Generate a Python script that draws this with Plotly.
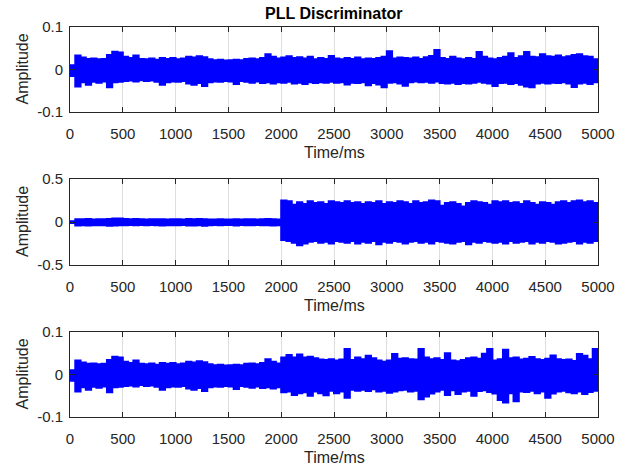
import plotly.graph_objects as go

# time axis of the envelope samples (ms)
t_ms = list(range(0, 5001, 50))

# Upper / lower envelopes (one value per 50 ms)
upper_1 = [0.010, 0.033, 0.028, 0.025, 0.026, 0.024, 0.025, 0.034, 0.042, 0.040,
           0.030, 0.027, 0.033, 0.025, 0.024, 0.026, 0.023, 0.027, 0.025, 0.027,
           0.024, 0.026, 0.030, 0.028, 0.031, 0.029, 0.024, 0.022, 0.023, 0.021,
           0.022, 0.023, 0.022, 0.025, 0.026, 0.024, 0.027, 0.036, 0.030, 0.026,
           0.028, 0.031, 0.027, 0.029, 0.026, 0.030, 0.024, 0.027, 0.025, 0.032,
           0.026, 0.024, 0.027, 0.025, 0.028, 0.024, 0.026, 0.025, 0.027, 0.030,
           0.043, 0.026, 0.028, 0.027, 0.026, 0.028, 0.025, 0.029, 0.032, 0.046,
           0.027, 0.025, 0.030, 0.026, 0.024, 0.027, 0.025, 0.041, 0.030, 0.026,
           0.024, 0.027, 0.030, 0.038, 0.027, 0.031, 0.041, 0.030, 0.029, 0.036,
           0.031, 0.030, 0.033, 0.029, 0.031, 0.034, 0.036, 0.031, 0.030, 0.024,
           0.016]
lower_1 = [-0.015, -0.040, -0.030, -0.036, -0.029, -0.031, -0.028, -0.042, -0.030, -0.029,
           -0.027, -0.026, -0.028, -0.025, -0.027, -0.026, -0.029, -0.036, -0.030, -0.028,
           -0.029, -0.027, -0.033, -0.036, -0.032, -0.039, -0.030, -0.028, -0.029, -0.027,
           -0.028, -0.034, -0.027, -0.029, -0.031, -0.028, -0.032, -0.030, -0.033, -0.030,
           -0.031, -0.029, -0.033, -0.031, -0.034, -0.030, -0.032, -0.030, -0.031, -0.029,
           -0.031, -0.030, -0.035, -0.031, -0.032, -0.030, -0.037, -0.032, -0.035, -0.042,
           -0.031, -0.030, -0.033, -0.038, -0.030, -0.028, -0.030, -0.029, -0.031, -0.028,
           -0.032, -0.033, -0.031, -0.034, -0.032, -0.033, -0.031, -0.029, -0.031, -0.033,
           -0.039, -0.032, -0.031, -0.034, -0.032, -0.036, -0.040, -0.042, -0.033, -0.031,
           -0.033, -0.031, -0.032, -0.030, -0.033, -0.041, -0.033, -0.031, -0.034, -0.030,
           -0.026]

upper_2 = [0.010, 0.033, 0.031, 0.034, 0.030, 0.032, 0.033, 0.036, 0.042, 0.040,
           0.035, 0.032, 0.034, 0.031, 0.030, 0.033, 0.031, 0.032, 0.030, 0.033,
           0.031, 0.030, 0.034, 0.033, 0.035, 0.032, 0.030, 0.029, 0.031, 0.030,
           0.029, 0.031, 0.030, 0.031, 0.032, 0.030, 0.031, 0.034, 0.032, 0.030,
           0.250, 0.240, 0.200, 0.230, 0.210, 0.240, 0.220, 0.230, 0.210, 0.240,
           0.230, 0.220, 0.240, 0.220, 0.230, 0.210, 0.230, 0.220, 0.240, 0.210,
           0.230, 0.220, 0.240, 0.230, 0.210, 0.240, 0.220, 0.230, 0.250, 0.240,
           0.190, 0.220, 0.230, 0.210, 0.180, 0.220, 0.240, 0.230, 0.220, 0.200,
           0.240, 0.230, 0.240, 0.220, 0.230, 0.210, 0.240, 0.220, 0.200, 0.230,
           0.220, 0.200, 0.230, 0.240, 0.220, 0.240, 0.250, 0.230, 0.240, 0.220,
           0.180]
lower_2 = [-0.012, -0.042, -0.038, -0.040, -0.037, -0.039, -0.038, -0.044, -0.040, -0.039,
           -0.037, -0.036, -0.038, -0.035, -0.037, -0.036, -0.038, -0.042, -0.038, -0.037,
           -0.038, -0.036, -0.040, -0.042, -0.039, -0.044, -0.038, -0.036, -0.037, -0.035,
           -0.036, -0.040, -0.035, -0.037, -0.038, -0.036, -0.039, -0.037, -0.040, -0.037,
           -0.210, -0.220, -0.240, -0.270, -0.250, -0.230, -0.220, -0.240, -0.230, -0.250,
           -0.220, -0.230, -0.240, -0.220, -0.250, -0.230, -0.240, -0.220, -0.260, -0.230,
           -0.240, -0.220, -0.230, -0.250, -0.230, -0.220, -0.240, -0.230, -0.250, -0.220,
           -0.230, -0.240, -0.250, -0.230, -0.220, -0.260, -0.230, -0.240, -0.220, -0.230,
           -0.240, -0.230, -0.250, -0.220, -0.240, -0.230, -0.220, -0.250, -0.230, -0.240,
           -0.220, -0.230, -0.250, -0.240, -0.230, -0.220, -0.250, -0.230, -0.240, -0.220,
           -0.180]

upper_3 = [0.010, 0.033, 0.028, 0.025, 0.026, 0.024, 0.025, 0.034, 0.042, 0.040,
           0.030, 0.027, 0.033, 0.025, 0.024, 0.026, 0.023, 0.027, 0.025, 0.027,
           0.024, 0.026, 0.030, 0.028, 0.031, 0.029, 0.024, 0.022, 0.023, 0.021,
           0.022, 0.023, 0.022, 0.025, 0.026, 0.024, 0.027, 0.036, 0.030, 0.026,
           0.040, 0.046, 0.040, 0.047, 0.040, 0.042, 0.038, 0.035, 0.034, 0.036,
           0.033, 0.035, 0.060, 0.034, 0.040, 0.036, 0.044, 0.038, 0.033, 0.030,
           0.033, 0.048, 0.037, 0.038, 0.036, 0.035, 0.060, 0.040, 0.036, 0.038,
           0.034, 0.050, 0.033, 0.031, 0.034, 0.038, 0.040, 0.037, 0.049, 0.060,
           0.033, 0.036, 0.058, 0.038, 0.040, 0.035, 0.037, 0.041, 0.036, 0.034,
           0.037, 0.045, 0.036, 0.034, 0.035, 0.032, 0.048, 0.044, 0.036, 0.060,
           0.030]
lower_3 = [-0.015, -0.040, -0.030, -0.036, -0.029, -0.031, -0.028, -0.042, -0.030, -0.029,
           -0.027, -0.026, -0.028, -0.025, -0.027, -0.026, -0.029, -0.036, -0.030, -0.028,
           -0.029, -0.027, -0.033, -0.036, -0.032, -0.039, -0.030, -0.028, -0.029, -0.027,
           -0.028, -0.034, -0.027, -0.029, -0.031, -0.028, -0.032, -0.030, -0.033, -0.030,
           -0.042, -0.040, -0.048, -0.044, -0.042, -0.050, -0.040, -0.044, -0.049, -0.038,
           -0.044, -0.040, -0.055, -0.036, -0.038, -0.036, -0.039, -0.035, -0.040, -0.038,
           -0.043, -0.040, -0.037, -0.036, -0.040, -0.038, -0.058, -0.052, -0.045, -0.040,
           -0.036, -0.048, -0.037, -0.046, -0.040, -0.038, -0.050, -0.039, -0.037, -0.041,
           -0.045, -0.060, -0.066, -0.044, -0.063, -0.040, -0.041, -0.038, -0.044, -0.040,
           -0.055, -0.045, -0.040, -0.038, -0.042, -0.044, -0.040, -0.046, -0.041, -0.038,
           -0.030]

x_ticks = [0, 500, 1000, 1500, 2000, 2500, 3000, 3500, 4000, 4500, 5000]
y_ticks_small = [-0.1, 0, 0.1]
y_labels_small = ["-0.1", "0", "0.1"]
y_ticks_big = [-0.5, 0, 0.5]
y_labels_big = ["-0.5", "0", "0.5"]

title_text = "PLL Discriminator"
x_title = "Time/ms"
y_title = "Amplitude"

W, H = 628, 472
BLUE = "#0000ff"
TXT = "#262626"
FONT = "Liberation Sans"

# plot-area pixel boxes
x_left, x_right = 70, 598
boxes = [(27, 112), (179, 265), (332, 417)]

fig = go.Figure()
series = [(upper_1, lower_1), (upper_2, lower_2), (upper_3, lower_3)]
for i, (up, lo) in enumerate(series):
    ax = "" if i == 0 else str(i + 1)
    fig.add_trace(go.Scatter(x=t_ms, y=up, mode="lines", line=dict(color=BLUE, width=2, shape="hv"),
                             xaxis="x" + ax, yaxis="y" + ax, showlegend=False, hoverinfo="skip"))
    fig.add_trace(go.Scatter(x=t_ms, y=lo, mode="lines", line=dict(color=BLUE, width=2, shape="hv"),
                             fill="tonexty", fillcolor=BLUE,
                             xaxis="x" + ax, yaxis="y" + ax, showlegend=False, hoverinfo="skip"))

layout = dict(width=W, height=H, margin=dict(l=0, r=0, t=0, b=0, pad=0),
              template="none", autosize=False,
              paper_bgcolor="white", plot_bgcolor="white",
              font=dict(family=FONT, size=15, color=TXT))
annotations = []
for i, (top, bot) in enumerate(boxes):
    ax = "" if i == 0 else str(i + 1)
    yd = [1 - bot / H, 1 - top / H]
    if i == 1:
        yr, yt, yl = [-0.5, 0.5], y_ticks_big, y_labels_big
    else:
        yr, yt, yl = [-0.1, 0.1], y_ticks_small, y_labels_small
    layout["xaxis" + ax] = dict(domain=[x_left / W, x_right / W], range=[0, 5000],
                                tickvals=x_ticks, ticktext=[str(v) for v in x_ticks],
                                showgrid=True, gridcolor="#dedede", gridwidth=1,
                                showline=True, linecolor=TXT, linewidth=1, mirror="ticks",
                                ticks="inside", ticklen=5, tickcolor=TXT,
                                ticklabelstandoff=8, zeroline=False, automargin=False,
                                anchor="y" + ax, tickfont=dict(size=15, color=TXT))
    layout["yaxis" + ax] = dict(domain=yd, range=yr, tickvals=yt, ticktext=yl,
                                showgrid=False, showline=True, linecolor=TXT, linewidth=1,
                                mirror="ticks", ticks="inside", ticklen=5, tickcolor=TXT,
                                zeroline=False, anchor="x" + ax, ticklabelstandoff=3,
                                automargin=False, tickfont=dict(size=15, color=TXT))
    annotations.append(dict(text=x_title, x=(x_left + x_right) / 2 / W, y=1 - (bot + 40) / H,
                            xref="paper", yref="paper", showarrow=False,
                            font=dict(size=16, color=TXT, family=FONT), xanchor="center", yanchor="middle"))
    annotations.append(dict(text=y_title, x=22 / W, y=1 - (top + bot) / 2 / H,
                            xref="paper", yref="paper", showarrow=False, textangle=-90,
                            font=dict(size=16, color=TXT, family=FONT), xanchor="center", yanchor="middle"))
annotations.append(dict(text="<b>" + title_text + "</b>", x=(x_left + x_right) / 2 / W, y=1 - 13 / H,
                        xref="paper", yref="paper", showarrow=False,
                        font=dict(size=16, color="#000000", family=FONT), xanchor="center", yanchor="middle"))
layout["annotations"] = annotations
fig.update_layout(**layout)
fig.write_html("out.html", config={"displayModeBar": False, "staticPlot": True},
               post_script="document.body.style.margin='0px';document.body.style.overflow='hidden';")
